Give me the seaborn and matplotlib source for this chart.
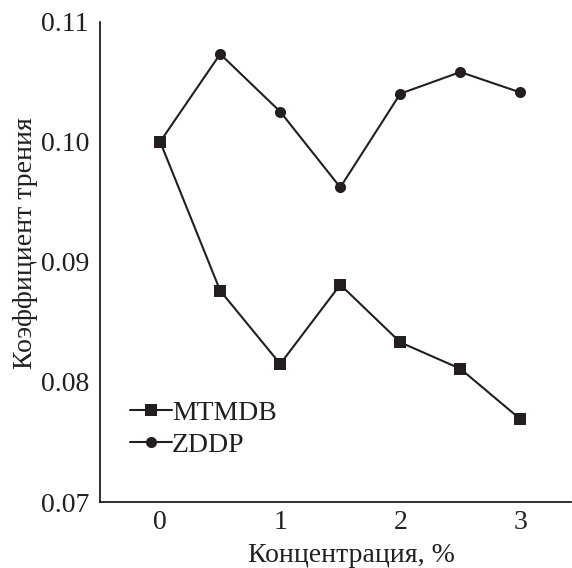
import numpy as np
import matplotlib
matplotlib.use("Agg")
import matplotlib.pyplot as plt
import seaborn as sns
import pandas as pd

conc = [0, 0.5, 1.0, 1.5, 2.0, 2.5, 3.0]
mtmdb = [0.1000, 0.0876, 0.0815, 0.0881, 0.0833, 0.0811, 0.0769]
zddp = [0.1000, 0.1073, 0.1025, 0.0962, 0.1040, 0.1058, 0.1041]
series_names = ['MTMDB', 'ZDDP']

df = pd.DataFrame({
    'conc': conc * 2,
    'value': mtmdb + zddp,
    'series': [series_names[0]] * len(conc) + [series_names[1]] * len(conc),
})

sns.set_style("white")
plt.rcParams['font.family'] = ['Liberation Serif', 'DejaVu Serif']

ink = '#231f20'

fig = plt.figure(figsize=(5.72, 5.68), dpi=100)
ax = fig.add_axes([0.175, 0.116, 0.823, 0.846])

sns.lineplot(data=df, x='conc', y='value', hue='series', style='series',
             palette={'MTMDB': ink, 'ZDDP': ink},
             markers={'MTMDB': 's', 'ZDDP': 'o'}, dashes=False,
             markersize=8, markeredgewidth=0, linewidth=1.5, ax=ax)

ax.set_xlim(-0.5, 3.42)
ax.set_ylim(0.07, 0.11)
ax.set_xticks([0, 1, 2, 3])
ax.set_yticks([0.07, 0.08, 0.09, 0.10, 0.11])
ax.set_yticklabels(['0.07', '0.08', '0.09', '0.10', '0.11'])

for s in ['top', 'right']:
    ax.spines[s].set_visible(False)
for s in ['left', 'bottom']:
    ax.spines[s].set_color(ink)
    ax.spines[s].set_linewidth(1.3)

ax.tick_params(direction='in', length=8, width=1.3, color=ink,
               labelsize=20, labelcolor=ink, pad=6)
ax.tick_params(axis='y', pad=8)

ax.set_xlabel('Концентрация, %', fontsize=20, color=ink)
ax.set_ylabel('Коэффициент трения', fontsize=20, color=ink)
ax.xaxis.set_label_coords(0.533, -0.086, transform=ax.transAxes)
ax.yaxis.set_label_coords(-0.132, 0.54, transform=ax.transAxes)

leg = ax.legend(loc='upper left', bbox_to_anchor=(0.04, 0.235), frameon=False,
                fontsize=20, handlelength=1.5, handletextpad=0.0,
                labelspacing=0.25, borderaxespad=0)
for t in leg.get_texts():
    t.set_color(ink)

fig.savefig('out.png', dpi=100)
